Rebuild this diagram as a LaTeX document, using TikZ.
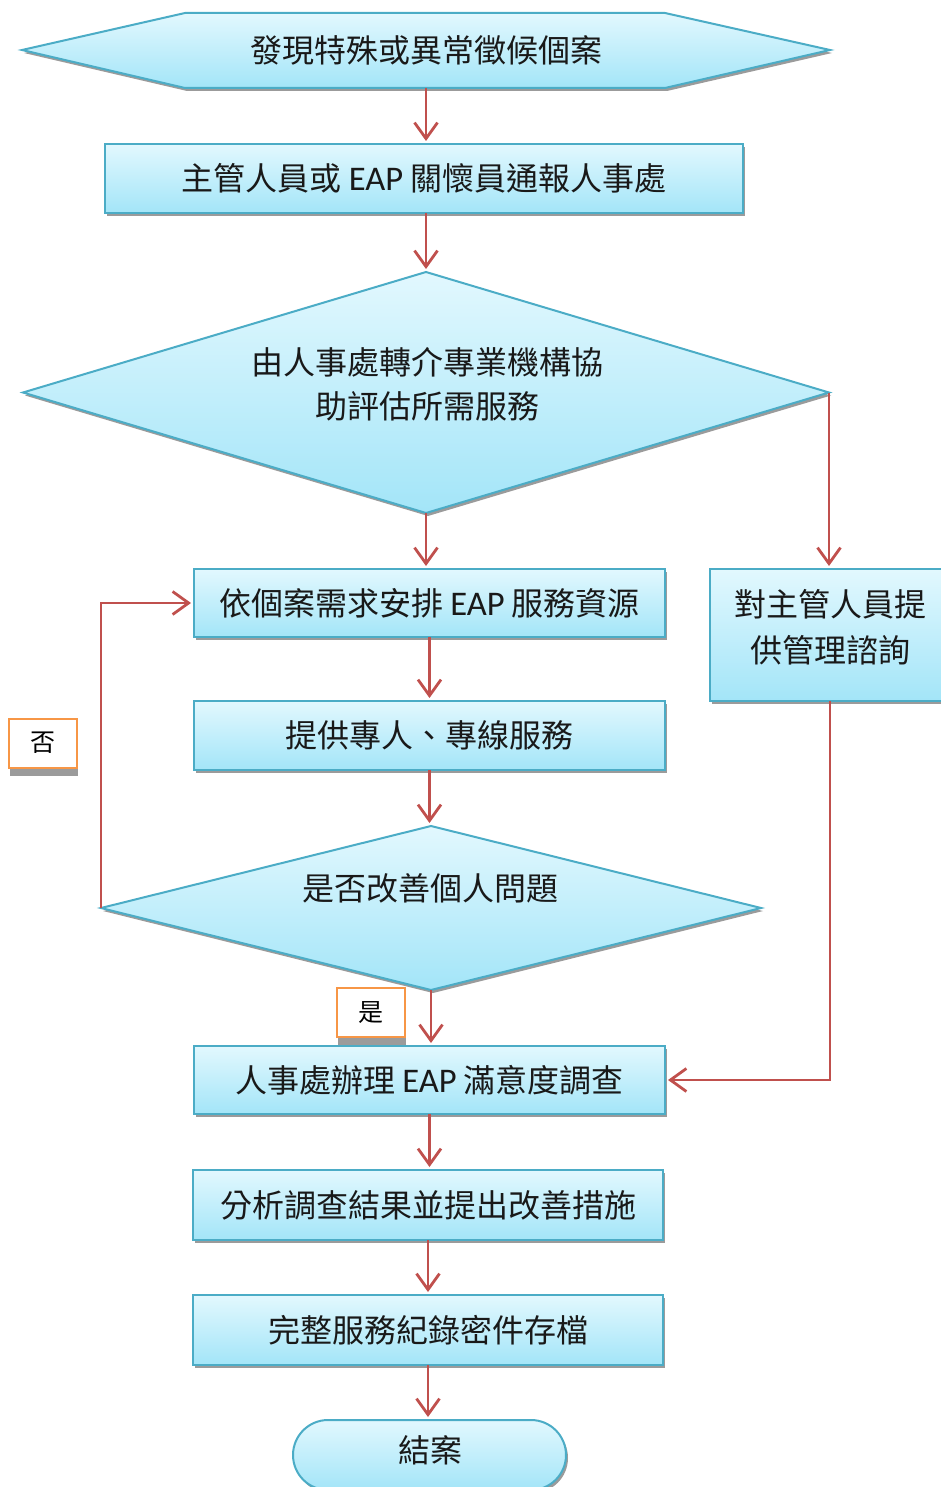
\documentclass[tikz,border=0pt]{standalone}
\usepackage{fontspec}
\setmainfont{Noto Sans CJK TC}
\newfontfamily\latinfnt[Scale=1.08]{Carlito}
\usetikzlibrary{arrows.meta,shapes.geometric,shapes.misc,shadows}
\definecolor{fillTop}{RGB}{226,248,254}
\definecolor{fillBot}{RGB}{163,229,248}
\definecolor{edgeC}{RGB}{75,172,198}
\definecolor{arrC}{RGB}{192,80,77}
\definecolor{labC}{RGB}{247,150,70}
\definecolor{shdC}{RGB}{155,155,155}
\newcommand{\EAPtxt}{{\latinfnt EAP}}
\begin{document}
\begin{tikzpicture}[x=1pt,y=-1pt,
  shp/.style={draw=edgeC, line width=2pt, top color=fillTop, bottom color=fillBot,
    drop shadow={shadow xshift=2pt, shadow yshift=-3pt, fill=shdC, opacity=1}},
  txt/.style={font=\fontsize{32}{44}\selectfont, align=center, inner sep=0, text=black!90},
  box/.style={shp, rectangle, inner sep=0, outer sep=0, txt},
  dia/.style={shp, diamond, inner sep=0, outer sep=0},
  lbl/.style={draw=labC, line width=2pt, fill=white, minimum width=68pt, minimum height=49pt,
    inner sep=0, outer sep=0, font=\fontsize{25}{30}\selectfont,
    drop shadow={shadow xshift=1pt, shadow yshift=-8pt, fill=shdC, opacity=1}},
  con/.style={draw=arrC, line width=2.8pt, -{Straight Barb[length=16pt,width=23pt]}, shorten >=3pt},
]
\useasboundingbox (0,0) rectangle (941,1487);

% hexagon
\path[shp] (22,50) -- (185,13) -- (665,13) -- (830,50) -- (665,88) -- (185,88) -- cycle;
\node[txt, minimum height=75pt, minimum width=480pt, outer sep=0] (hex) at (426,50.5) {發現特殊或異常徵候個案};

\node[box, minimum width=638pt, minimum height=69pt] (b1) at (424,178.5) {主管人員或 \EAPtxt{} 關懷員通報人事處};

\node[dia, minimum width=806pt, minimum height=241pt] (d1) at (426,392.5) {};
\node[txt] (t1) at (427,384) {由人事處轉介專業機構協\\助評估所需服務};

\node[box, minimum width=471pt, minimum height=68pt] (b2) at (429.5,603) {依個案需求安排 \EAPtxt{} 服務資源};

\node[box, minimum width=240pt, minimum height=132pt] (rb) at (830,635) {};
\node[txt, text width=210pt, align=center] (trb) at (830,627) {對主管人員提\\[2pt]供管理諮詢};

\node[box, minimum width=471pt, minimum height=69pt] (b3) at (429.5,735.5) {提供專人、專線服務};

\node[dia, minimum width=660pt, minimum height=164pt] (d2) at (431,908) {};
\node[txt] (t2) at (430,888) {是否改善個人問題};

\node[box, minimum width=471pt, minimum height=68pt] (b4) at (429.5,1080) {人事處辦理 \EAPtxt{} 滿意度調查};
\node[box, minimum width=470pt, minimum height=70pt] (b5) at (428,1205) {分析調查結果並提出改善措施};
\node[box, minimum width=470pt, minimum height=70pt] (b6) at (428,1330) {完整服務紀錄密件存檔};

\node[shp, rounded rectangle, minimum width=273pt, minimum height=70pt, inner sep=0, outer sep=0] (term) at (429.5,1455) {};
\node[txt] (tterm) at (430,1450) {結案};

\node[lbl] (no) at (43,743) {否};
\node[lbl] (yes) at (371,1012.5) {是};

% connectors
\draw[con] (hex.south) -- (hex.south |- b1.north);
\draw[con] (b1.south -| d1.north) -- (d1.north);
\draw[con] (d1.south) -- (d1.south |- b2.north);
\draw[con] (d1.east) -- (d1.east |- rb.north);
\draw[con] (b2.south) -- (b2.south |- b3.north);
\draw[con] (b3.south) -- (b3.south |- d2.north);
\draw[con] (d2.west) |- (b2.west);
\draw[con] (d2.south) -- (d2.south |- b4.north);
\draw[con] (rb.south) |- (b4.east);
\draw[con] (b4.south) -- (b4.south |- b5.north);
\draw[con] (b5.south) -- (b5.south |- b6.north);
\draw[con] (b6.south) -- (b6.south |- term.north);
\end{tikzpicture}
\end{document}
